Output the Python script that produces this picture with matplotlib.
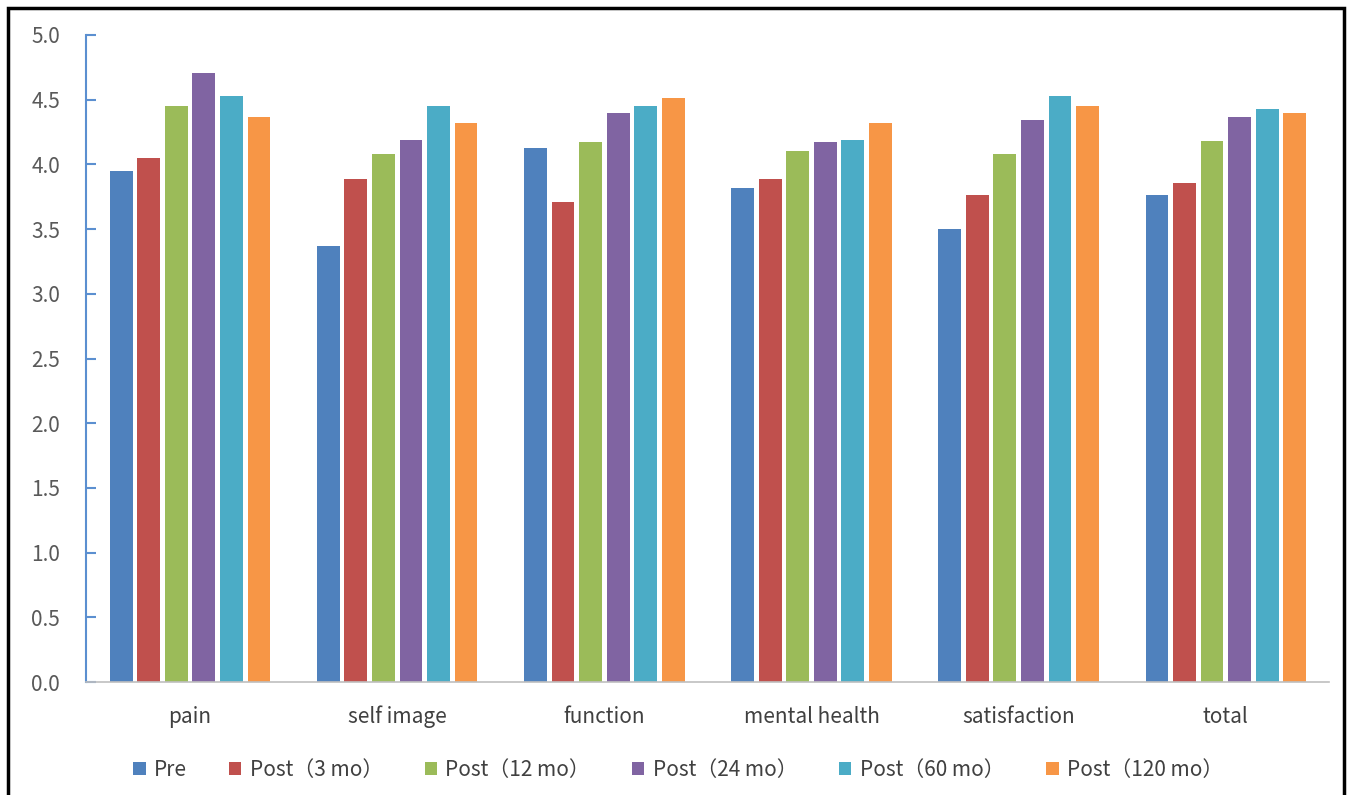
import matplotlib.pyplot as plt
import numpy as np
from matplotlib.patches import Rectangle

plt.rcParams['font.family'] = ['Noto Sans CJK SC', 'DejaVu Sans']

categories = ["pain", "self image", "function", "mental health", "satisfaction", "total"]
series_names = ["Pre", "Post（3 mo）", "Post（12 mo）", "Post（24 mo）", "Post（60 mo）", "Post（120 mo）"]
pre = [3.95, 3.37, 4.13, 3.82, 3.50, 3.76]
post_3 = [4.05, 3.89, 3.71, 3.89, 3.76, 3.86]
post_12 = [4.45, 4.08, 4.17, 4.10, 4.08, 4.18]
post_24 = [4.71, 4.19, 4.40, 4.17, 4.34, 4.37]
post_60 = [4.53, 4.45, 4.45, 4.19, 4.53, 4.43]
post_120 = [4.37, 4.32, 4.51, 4.32, 4.45, 4.40]
yticks = [0.0, 0.5, 1.0, 1.5, 2.0, 2.5, 3.0, 3.5, 4.0, 4.5, 5.0]

colors = ["#4F81BD", "#C0504D", "#9BBB59", "#8064A2", "#4BACC6", "#F79646"]
series = [pre, post_3, post_12, post_24, post_60, post_120]

fig = plt.figure(figsize=(13.51, 7.95), dpi=100)
ax = fig.add_axes([0.064, 0.142, 0.920, 0.814])

x = np.arange(len(categories))
step = 0.133
for i, (vals, c, name) in enumerate(zip(series, colors, series_names)):
    ax.bar(x + (i - 2.5) * step, vals, width=0.11, color=c, label=name, zorder=2)

ax.set_xlim(-0.5, len(categories) - 0.5)
ax.set_ylim(0, 5.0)
ax.set_yticks(yticks)
ax.set_yticklabels([f"{t:.1f}" for t in yticks], color="#595959", fontsize=15)
ax.set_xticks(x)
ax.set_xticklabels(categories, color="#404040", fontsize=15)
ax.tick_params(axis='x', length=0, pad=17)
ax.tick_params(axis='y', direction='in', length=7, color="#5B8FD0", width=1.5, pad=19)

for s in ["top", "right"]:
    ax.spines[s].set_visible(False)
ax.spines["left"].set_color("#5B8FD0")
ax.spines["left"].set_linewidth(1.5)
ax.spines["bottom"].set_color("#BFBFBF")
ax.spines["bottom"].set_linewidth(1.2)

leg = fig.legend(loc='center', bbox_to_anchor=(0.502, 1 - 770 / 795), ncol=6, frameon=False,
                 fontsize=15, handlelength=0.6, handleheight=0.6, handletextpad=0.4, columnspacing=2.0)
for t in leg.get_texts():
    t.set_color("#404040")

fig.patches.append(Rectangle((0.006, -0.01), 0.989, 1.0, transform=fig.transFigure,
                             fill=False, edgecolor="black", linewidth=2.5))

fig.savefig("out.png", dpi=100)
